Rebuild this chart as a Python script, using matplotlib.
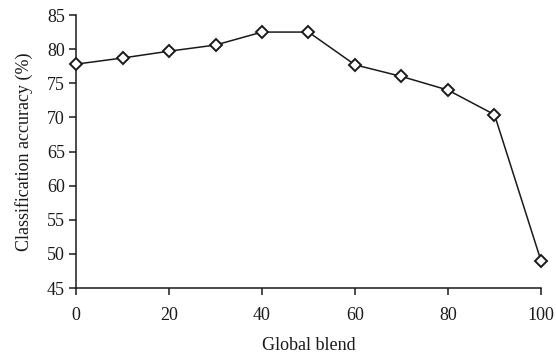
import matplotlib
matplotlib.use('Agg')
import matplotlib.pyplot as plt

# data
blend = [0, 10, 20, 30, 40, 50, 60, 70, 80, 90, 100]
accuracy = [77.8, 78.7, 79.7, 80.6, 82.5, 82.5, 77.7, 76.0, 74.0, 70.4, 49.0]
xticks = [0, 20, 40, 60, 80, 100]
yticks = [45, 50, 55, 60, 65, 70, 75, 80, 85]

plt.rcParams['font.family'] = ['Liberation Serif', 'DejaVu Serif']

fig = plt.figure(figsize=(5.56, 3.54), dpi=100)
ax = fig.add_axes([0.1367, 0.1864, 0.8363, 0.7712])

ax.plot(blend, accuracy, color='#1a1a1a', lw=1.1, marker='D', ms=5.8,
        mfc='white', mec='#1a1a1a', mew=1.4, clip_on=False, zorder=3)

ax.set_xlim(0, 100)
ax.set_ylim(45, 85)
ax.set_xticks(xticks)
ax.set_yticks(yticks)
ax.tick_params(labelsize=13, width=1.1, length=5, color='#1a1a1a', labelcolor='#1a1a1a')
ax.tick_params(axis='x', pad=9)
ax.tick_params(axis='y', pad=3)
for s in ['top', 'right']:
    ax.spines[s].set_visible(False)
for s in ['left', 'bottom']:
    ax.spines[s].set_linewidth(1.1)
    ax.spines[s].set_color('#1a1a1a')

ax.set_xlabel('Global blend', fontsize=13, color='#1a1a1a', labelpad=9)
ax.set_ylabel('Classification accuracy (%)', fontsize=13, color='#1a1a1a', labelpad=10)

fig.savefig('out.png', dpi=100)
